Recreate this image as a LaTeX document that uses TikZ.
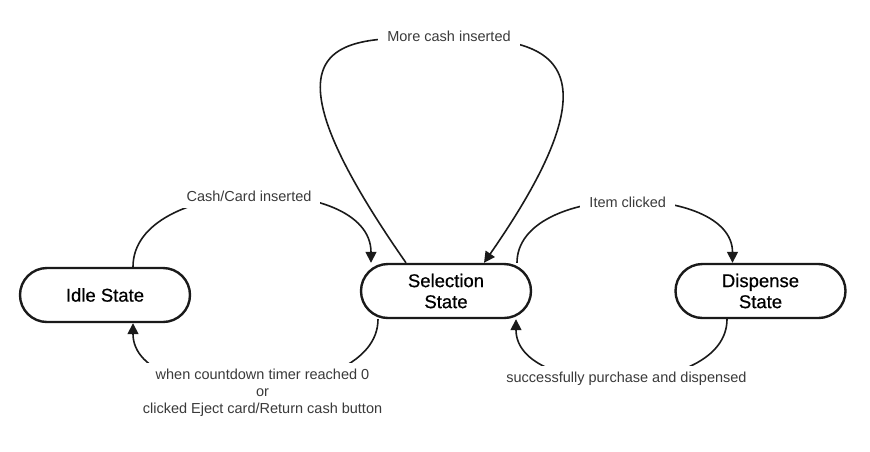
\documentclass[tikz,border=0pt]{standalone}
\usepackage{fontspec}
\setmainfont{Liberation Sans}
\newfontfamily\statefont[FakeBold=0.6]{Liberation Sans}
\usetikzlibrary{arrows.meta,calc}
\definecolor{ink}{HTML}{1A1A1A}
\definecolor{lbltext}{HTML}{3A3A3A}
\tikzset{
  state/.style={draw=ink, line width=2.4pt, rounded corners=27pt, minimum width=170pt,
    minimum height=54pt, align=center, font=\statefont\fontsize{18.5}{21}\selectfont, text=black, inner sep=0pt},
  conn/.style={draw=ink, line width=1.6pt, -{Triangle[length=11pt,width=11pt]}},
  lbl/.style={fill=white, text=lbltext, font=\fontsize{14.5}{17}\selectfont, align=center,
    inner xsep=9pt, inner ysep=6pt}
}
\begin{document}
\begin{tikzpicture}[x=1pt,y=-1pt]
\useasboundingbox (0,0) rectangle (870,451);
\node[state] (idle) at (105,295) {Idle State};
\node[state] (sel) at (446,291) {Selection\\State};
\node[state] (disp) at (760.5,291) {Dispense\\State};

\draw[conn] ([xshift=28pt]idle.north) .. controls +(0,-91) and +(0,-91) ..
  node[lbl, pos=0.5, xshift=-3pt] (l1) {Cash/Card inserted} ([xshift=-75pt]sel.north);

\draw[conn] ([xshift=-68pt]sel.south) .. controls +(0,87) and +(0,87) ..
  node[lbl, pos=0.5, xshift=7pt, yshift=-6pt] (l2) {when countdown timer reached 0\\or\\clicked Eject card/Return cash button} ([xshift=28pt]idle.south);

\coordinate (top) at (449,38);
\draw[conn] ([xshift=-40pt]sel.north) .. controls +(-166,-238) and +(-100,0) .. (top)
  .. controls +(90,0) and +(148,-213) .. ([xshift=38pt]sel.north);
\node[lbl, yshift=2pt] (l3) at (top) {More cash inserted};

\draw[conn] ([xshift=71pt]sel.north) .. controls +(0,-81) and +(0,-81) ..
  node[lbl, pos=0.5, xshift=3pt] (l4) {Item clicked} ([xshift=-28pt]disp.north);

\draw[conn] ([xshift=-33.5pt]disp.south) .. controls +(0,80) and +(0,80) ..
  node[lbl, pos=0.5, xshift=5pt] (l5) {successfully purchase and dispensed} ([xshift=70pt]sel.south);
\end{tikzpicture}
\end{document}
